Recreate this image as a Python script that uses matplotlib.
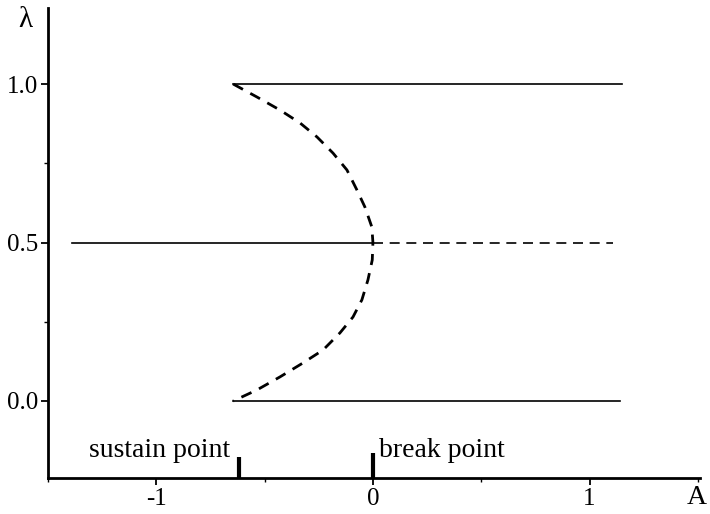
import matplotlib.pyplot as plt
from matplotlib.ticker import MultipleLocator

plt.rcParams['font.family'] = ['Liberation Serif', 'DejaVu Serif']

# stable branches (solid)
top_A = [-0.645, 1.15]
top_lam = [1.0, 1.0]
mid_A = [-1.39, 0.0]
mid_lam = [0.5, 0.5]
bot_A = [-0.645, 1.14]
bot_lam = [0.0, 0.0]

# unstable branches (dashed)
mid_dash_A = [0.0, 1.11]
mid_dash_lam = [0.5, 0.5]
curve_A = [-0.645, -0.535, -0.429, -0.336, -0.258, -0.184, -0.120, -0.074, -0.037, -0.005, 0.0,
           -0.003, -0.023, -0.051, -0.092, -0.152, -0.230, -0.323, -0.429, -0.535, -0.645]
curve_lam = [1.0, 0.959, 0.918, 0.877, 0.833, 0.782, 0.729, 0.666, 0.612, 0.549, 0.5,
             0.445, 0.382, 0.319, 0.265, 0.215, 0.161, 0.120, 0.076, 0.035, 0.0]

marks_A = [-0.62, 0.0]
marks_top = [-0.177, -0.165]
marks_text = ['sustain point', 'break point']

fig = plt.figure(figsize=(7.1, 5.14), dpi=100)
ax = fig.add_axes([48 / 710, 36 / 514, 652 / 710, 470 / 514])

ax.plot(top_A, top_lam, color='black', lw=1.2)
ax.plot(mid_A, mid_lam, color='black', lw=1.2)
ax.plot(bot_A, bot_lam, color='black', lw=1.2)
ax.plot(mid_dash_A, mid_dash_lam, color='black', lw=1.2, dashes=(6, 4))
ax.plot(curve_A, curve_lam, color='black', lw=2.0, dashes=(4, 3))

ax.set_xlim(-1.5, 1.51)
ax.set_ylim(-0.243, 1.24)

# markers on the A axis
for a, t in zip(marks_A, marks_top):
    ax.plot([a, a], [-0.243, t], color='black', lw=3, solid_capstyle='butt')
ax.text(marks_A[0] - 0.04, -0.197, marks_text[0], ha='right', va='bottom', fontsize=20)
ax.text(marks_A[1] + 0.03, -0.197, marks_text[1], ha='left', va='bottom', fontsize=20)

for s in ['top', 'right']:
    ax.spines[s].set_visible(False)
for s in ['left', 'bottom']:
    ax.spines[s].set_linewidth(2.0)

ax.set_xticks([-1, 0, 1])
ax.set_xticklabels(['-1', '0', '1'])
ax.xaxis.set_minor_locator(MultipleLocator(0.5))
ax.set_yticks([0.0, 0.5, 1.0])
ax.set_yticklabels(['0.0', '0.5', '1.0'])
ax.yaxis.set_minor_locator(MultipleLocator(0.25))
ax.tick_params(which='major', length=5, width=1.3, labelsize=18, pad=2)
ax.tick_params(which='minor', length=3, width=1.0)

fig.text(25 / 710, 1 - 20 / 514, 'λ', fontsize=21, ha='center', va='center')
fig.text(697 / 710, 1 - 497 / 514, 'A', fontsize=20, ha='center', va='center')

fig.savefig('out.png', dpi=100)
